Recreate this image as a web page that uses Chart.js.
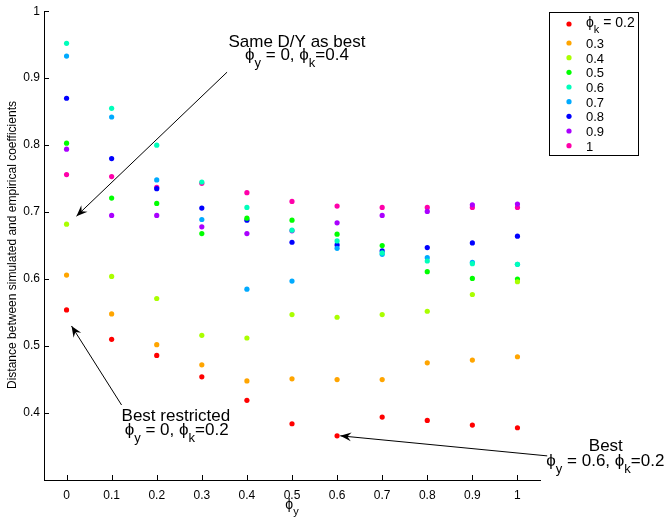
<!DOCTYPE html>
<html><head><meta charset="utf-8">
<script src="https://cdn.jsdelivr.net/npm/chart.js@4/dist/chart.umd.min.js"></script>
<style>html,body{margin:0;padding:0;background:#fff}#wrap{width:666px;height:519px}</style>
</head><body><div id="wrap"><canvas id="c" width="666" height="519"></canvas></div>
<script>
const phiY = [0,0.1,0.2,0.3,0.4,0.5,0.6,0.7,0.8,0.9,1];
const phiK = ['0.2','0.3','0.4','0.5','0.6','0.7','0.8','0.9','1'];
const colors = ['#ff0000','#ffa500','#aaff00','#00ff00','#00ffbb','#00aaff','#0000ff','#aa00ff','#ff00aa'];
const s02 = [0.554,0.510,0.486,0.454,0.419,0.384,0.366,0.394,0.389,0.382,0.378];
const s03 = [0.606,0.548,0.502,0.472,0.448,0.451,0.450,0.450,0.475,0.479,0.484];
const s04 = [0.682,0.604,0.571,0.516,0.512,0.547,0.543,0.547,0.552,0.577,0.596];
const s05 = [0.803,0.721,0.713,0.668,0.691,0.688,0.667,0.650,0.611,0.601,0.600];
const s06 = [0.952,0.855,0.800,0.745,0.707,0.673,0.657,0.639,0.627,0.623,0.622];
const s07 = [0.933,0.842,0.748,0.689,0.585,0.597,0.646,0.637,0.632,0.625,0.622];
const s08 = [0.870,0.780,0.735,0.706,0.688,0.655,0.651,0.642,0.647,0.654,0.664];
const s09 = [0.794,0.695,0.695,0.678,0.668,0.672,0.684,0.695,0.701,0.711,0.712];
const s10 = [0.756,0.753,0.737,0.743,0.729,0.716,0.709,0.707,0.707,0.707,0.707];
const series = [s02,s03,s04,s05,s06,s07,s08,s09,s10];
const xTicks = [0,0.1,0.2,0.3,0.4,0.5,0.6,0.7,0.8,0.9,1];
const yTicks = [0.4,0.5,0.6,0.7,0.8,0.9,1];

const FONT = '"Liberation Sans", Arial, sans-serif';
const PHI = '\u03D5';

function drawRich(ctx, parts, x, y, size, align){
  const sub = Math.round(size*0.75);
  let w = 0;
  parts.forEach(p=>{ctx.font = (p.sub?sub:size)+'px '+FONT; p.w = ctx.measureText(p.t).width; w += p.w;});
  let cx = align==='center' ? x - w/2 : x;
  ctx.textAlign='left'; ctx.textBaseline='alphabetic';
  parts.forEach(p=>{ctx.font=(p.sub?sub:size)+'px '+FONT; ctx.fillText(p.t, cx, p.sub? y+size*0.4 : y); cx += p.w;});
}
function arrow(ctx, x0,y0,x1,y1){
  ctx.beginPath(); ctx.moveTo(x0,y0); ctx.lineTo(x1,y1); ctx.stroke();
  const a = Math.atan2(y1-y0,x1-x0), L=11, W=4.5;
  const bx = x1 - L*Math.cos(a), by = y1 - L*Math.sin(a);
  const nx = -Math.sin(a), ny = Math.cos(a);
  const mx = x1 - L*0.65*Math.cos(a), my = y1 - L*0.65*Math.sin(a);
  ctx.beginPath(); ctx.moveTo(x1,y1); ctx.lineTo(bx+nx*W, by+ny*W); ctx.lineTo(mx,my); ctx.lineTo(bx-nx*W, by-ny*W); ctx.closePath(); ctx.fill();
}

const notes = [
  {tail:[0.356,0.909], tip:[0.022,0.694], lines:[
    {x:0.511,y:0.946,align:'center',parts:[{t:'Same D/Y as best'}]},
    {x:0.511,y:0.927,align:'center',parts:[{t:PHI},{t:'y',sub:1},{t:' = 0, '},{t:PHI},{t:'k',sub:1},{t:'=0.4'}]}]},
  {tail:[0.122,0.412], tip:[0.011,0.530], lines:[
    {x:0.122,y:0.388,align:'left',parts:[{t:'Best restricted'}]},
    {x:0.129,y:0.367,align:'left',parts:[{t:PHI},{t:'y',sub:1},{t:' = 0, '},{t:PHI},{t:'k',sub:1},{t:'=0.2'}]}]},
  {tail:[1.066,0.336], tip:[0.607,0.366], lines:[
    {x:1.196,y:0.343,align:'center',parts:[{t:'Best'}]},
    {x:1.064,y:0.321,align:'left',parts:[{t:PHI},{t:'y',sub:1},{t:' = 0.6, '},{t:PHI},{t:'k',sub:1},{t:'=0.2'}]}]}
];

const deco = {
  id:'deco',
  afterDraw(chart){
    const ctx = chart.ctx, xs = chart.scales.x, ys = chart.scales.y, ca = chart.chartArea;
    ctx.save();
    ctx.strokeStyle='#000'; ctx.lineWidth=1;
    xTicks.forEach(v=>{const px=Math.round(xs.getPixelForValue(v))+0.5; ctx.beginPath(); ctx.moveTo(px,ca.bottom); ctx.lineTo(px,ca.bottom-5); ctx.stroke();});
    yTicks.forEach(v=>{const py=Math.round(ys.getPixelForValue(v))+0.5; ctx.beginPath(); ctx.moveTo(ca.left,py); ctx.lineTo(ca.left+5,py); ctx.stroke();});
    ctx.fillStyle='#000';
    ctx.save(); ctx.translate(13, 245); ctx.rotate(-Math.PI/2);
    ctx.font='12px '+FONT; ctx.textAlign='center'; ctx.textBaseline='middle';
    ctx.fillText('Distance between simulated and empirical coefficients',0,0); ctx.restore();
    drawRich(ctx,[{t:PHI},{t:'y',sub:1}],(ca.left+ca.right)/2,509,14,'center');
    ctx.strokeStyle='#000'; ctx.fillStyle='#000'; ctx.lineWidth=1;
    notes.forEach(n=>{
      arrow(ctx, xs.getPixelForValue(n.tail[0]), ys.getPixelForValue(n.tail[1]), xs.getPixelForValue(n.tip[0]), ys.getPixelForValue(n.tip[1]));
      n.lines.forEach(l=>drawRich(ctx,l.parts,xs.getPixelForValue(l.x),ys.getPixelForValue(l.y),17,l.align));
    });
    const lx=549.5, ly=12.5, lw=89, lh=143;
    ctx.fillStyle='#fff'; ctx.fillRect(lx,ly,lw,lh);
    ctx.strokeStyle='#000'; ctx.lineWidth=1; ctx.strokeRect(lx,ly,lw,lh);
    const rowsY=[24,43,57.7,72.3,87,101.7,116.3,131,145.7];
    phiK.forEach((k,i)=>{
      ctx.fillStyle=colors[i]; ctx.beginPath(); ctx.arc(569,rowsY[i],2.6,0,Math.PI*2); ctx.fill();
      ctx.fillStyle='#000';
      if(i===0) drawRich(ctx,[{t:PHI},{t:'k',sub:1},{t:' = '+k}],586,rowsY[i]+3,14,'left');
      else drawRich(ctx,[{t:k}],586,rowsY[i]+5,13,'left');
    });
    ctx.restore();
  }
};

new Chart(document.getElementById('c'),{
  type:'scatter',
  data:{datasets: series.map((s,i)=>({label:phiK[i], data:phiY.map((x,j)=>({x:x,y:s[j]})), backgroundColor:colors[i], borderColor:colors[i], pointRadius:2.6, borderWidth:0, pointHoverRadius:2.6}))},
  options:{
    responsive:false, animation:false, devicePixelRatio:1,
    layout:{padding:{left:0,top:10,right:126,bottom:0}},
    plugins:{legend:{display:false}, tooltip:{enabled:false}},
    scales:{
      x:{type:'linear', min:-0.05, max:1.05,
        afterBuildTicks(s){s.ticks = xTicks.map(v=>({value:v}));},
        afterFit(s){s.height=39;},
        grid:{display:true, drawOnChartArea:false, drawTicks:false},
        border:{display:true,color:'#000',width:1},
        ticks:{padding:8, color:'#000', font:{family:FONT,size:12}, callback:v=>String(Math.round(v*10)/10)}},
      y:{type:'linear', min:0.3, max:1,
        afterBuildTicks(s){s.ticks = yTicks.map(v=>({value:v}));},
        afterFit(s){s.width=44;},
        grid:{display:true, drawOnChartArea:false, drawTicks:false},
        border:{display:true,color:'#000',width:1},
        ticks:{padding:4, color:'#000', font:{family:FONT,size:12}, callback:v=>String(Math.round(v*10)/10)}}
    }
  },
  plugins:[deco]
});
</script></body></html>
